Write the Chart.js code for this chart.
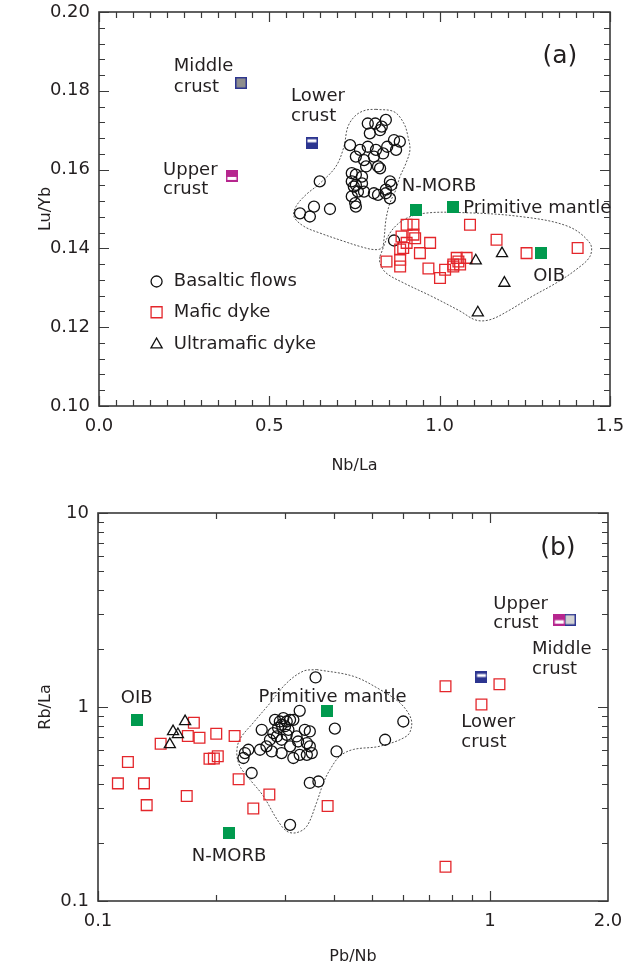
<!DOCTYPE html>
<html><head><meta charset="utf-8">
<script src="https://cdn.jsdelivr.net/npm/chart.js@4.4.0/dist/chart.umd.min.js"></script>
<style>
html,body{margin:0;padding:0;background:#fff;width:623px;height:966px;overflow:hidden}
.wrap{position:absolute;left:0;width:623px;height:483px}
canvas{display:block}
</style></head><body>
<div class="wrap" style="top:0"><canvas id="ca" width="623" height="483"></canvas></div>
<div class="wrap" style="top:483px"><canvas id="cb" width="623" height="483"></canvas></div>
<script>
// ---------------- Panel (a): Nb/La vs Lu/Yb ----------------
const aBasaltNbLa = [0.737,0.789,0.811,0.830,0.842,0.825,0.795,0.866,0.883,0.872,0.846,0.834,0.813,0.789,0.766,0.754,0.778,0.807,0.784,0.742,0.754,0.772,0.819,0.825,0.854,0.858,0.842,0.742,0.754,0.748,0.760,0.778,0.772,0.807,0.819,0.842,0.854,0.742,0.752,0.754,0.648,0.678,0.631,0.619,0.590,0.866];
const aBasaltLuYb = [0.1662,0.1717,0.1717,0.1709,0.1726,0.1700,0.1692,0.1675,0.1671,0.1650,0.1658,0.1641,0.1650,0.1658,0.1650,0.1633,0.1624,0.1633,0.1608,0.1591,0.1587,0.1582,0.1608,0.1603,0.1570,0.1561,0.1549,0.1570,0.1561,0.1557,0.1544,0.1544,0.1565,0.1540,0.1536,0.1540,0.1527,0.1532,0.1515,0.1506,0.1570,0.1500,0.1506,0.1481,0.1489,0.1420];
const aMaficNbLa = [0.903,0.923,1.089,0.888,0.923,0.928,0.903,0.972,1.167,0.884,0.893,0.942,0.844,0.884,0.884,0.967,1.001,1.016,1.040,1.050,1.055,1.079,1.060,1.040,1.255,1.405];
const aMaficLuYb = [0.1460,0.1460,0.1460,0.1430,0.1435,0.1426,0.1414,0.1414,0.1422,0.1397,0.1401,0.1388,0.1367,0.1371,0.1354,0.1349,0.1325,0.1346,0.1359,0.1376,0.1367,0.1376,0.1359,0.1354,0.1388,0.1401];
const aUltraNbLa = [1.106,1.183,1.190,1.112];
const aUltraLuYb = [0.1369,0.1387,0.1312,0.1237];
const refNames = ['Upper crust','Middle crust','Lower crust','N-MORB','Primitive mantle','OIB'];
const aRefNbLa = [0.390,0.417,0.625,0.931,1.039,1.297];
const aRefLuYb = [0.1584,0.1820,0.1668,0.1497,0.1506,0.1389];
// outlined fields (a)
const aBasaltFieldNbLa = [0.8129,0.8657,0.8951,0.9069,0.9127,0.901,0.8834,0.8716,0.854,0.8423,0.8364,0.8305,0.807,0.7659,0.7189,0.6484,0.6014,0.5721,0.578,0.6073,0.6484,0.6954,0.7189,0.7307,0.7541,0.7835];
const aBasaltFieldLuYb = [0.1753,0.1747,0.1717,0.1684,0.1650,0.1616,0.1582,0.1549,0.1515,0.1473,0.1422,0.1401,0.1397,0.1405,0.1418,0.1439,0.1456,0.1481,0.1506,0.1536,0.1565,0.1608,0.1658,0.1709,0.1738,0.1751];
const aMaficFieldNbLa = [0.8246,0.854,0.8951,0.9538,1.0596,1.2358,1.3767,1.4413,1.4413,1.4002,1.3415,1.271,1.2005,1.1477,1.1066,1.0596,0.9773,0.8951,0.8423,0.8246];
const aMaficFieldLuYb = [0.1380,0.1439,0.1473,0.1489,0.1491,0.1481,0.1456,0.1413,0.1380,0.1346,0.1312,0.1278,0.1241,0.1219,0.1218,0.1241,0.1278,0.1312,0.1338,0.1363];
const aXTicks = [0, 0.5, 1.0, 1.5];
const aYTicks = [0.10, 0.12, 0.14, 0.16, 0.18, 0.20];

// ---------------- Panel (b): Pb/Nb vs Rb/La ----------------
const bBasaltPbNb = [0.359,0.327,0.402,0.601,0.540,0.406,0.347,0.365,0.309,0.2466,0.235,0.237,0.2418,0.259,0.2616,0.2775,0.294,0.280,0.2746,0.2828,0.291,0.297,0.303,0.309,0.315,0.300,0.288,0.286,0.303,0.321,0.337,0.347,0.341,0.347,0.351,0.341,0.327,0.315,0.309,0.324,0.294,0.269,0.294,0.306];
const bBasaltRbLa = [1.42,0.956,0.773,0.842,0.678,0.590,0.406,0.413,0.247,0.457,0.546,0.579,0.602,0.602,0.763,0.590,0.579,0.734,0.678,0.859,0.842,0.877,0.842,0.859,0.859,0.796,0.780,0.705,0.719,0.705,0.763,0.748,0.652,0.627,0.579,0.567,0.567,0.546,0.627,0.664,0.678,0.627,0.810,0.763];
const bMaficPbNb = [0.1124,0.1192,0.131,0.1331,0.1445,0.1684,0.1756,0.1695,0.1815,0.2003,0.2231,0.1925,0.1975,0.2021,0.2284,0.249,0.2736,0.3853,0.770,0.951,1.057,0.770];
const bMaficRbLa = [0.404,0.520,0.404,0.312,0.646,0.348,0.829,0.708,0.694,0.728,0.708,0.541,0.543,0.558,0.424,0.300,0.354,0.309,1.28,1.03,1.31,0.150];
const bUltraPbNb = [0.1525,0.1554,0.1599,0.1668];
const bUltraRbLa = [0.641,0.748,0.722,0.842];
const bRefPbNb = [1.503,1.60,0.951,0.216,0.383,0.126];
const bRefRbLa = [2.82,2.82,1.42,0.225,0.952,0.862];
const bBasaltFieldPbNb = [0.361,0.448,0.524,0.589,0.625,0.631,0.613,0.524,0.448,0.414,0.391,0.376,0.361,0.341,0.321,0.303,0.286,0.264,0.244,0.230,0.226,0.230,0.249,0.275,0.303,0.334];
const bBasaltFieldRbLa = [1.56,1.44,1.23,1.05,0.897,0.796,0.708,0.628,0.604,0.558,0.477,0.407,0.321,0.243,0.225,0.229,0.264,0.348,0.423,0.496,0.581,0.681,0.830,1.05,1.33,1.53];
const bXTicks = [0.1, 1, 2];
const bXTickLabels = ['0.1', '1', '2.0'];
const bYTicks = [0.1, 1, 10];
const bYTickLabels = ['0.1', '1', '10'];

// ---------------- styling ----------------
const FONT = '"DejaVu Sans", "Liberation Sans", sans-serif';
const TXT = '#231f20';
const GREEN = '#009a4e', MAG = '#b6268e', BLUE = '#2c3590', RED = '#e4262b';

function pts(xs, ys, close) {
  const p = xs.map((x, i) => ({x: x, y: ys[i]}));
  if (close) p.push({x: xs[0], y: ys[0]});
  return p;
}
function mk(draw) {
  const c = document.createElement('canvas'); c.width = 12; c.height = 12;
  draw(c.getContext('2d')); return c;
}
const mGreen = mk(g => { g.fillStyle = GREEN; g.fillRect(0, 0, 12, 12); });
const mUpperA = mk(g => { g.fillStyle = MAG; g.fillRect(0, 0, 12, 12); g.fillStyle = '#fff'; g.fillRect(1.5, 7, 9, 3); });
const mLowerA = mk(g => { g.fillStyle = BLUE; g.fillRect(0, 0, 12, 12); g.fillStyle = '#fff'; g.fillRect(1.5, 2.5, 9, 3); });
const mMiddleA = mk(g => { g.fillStyle = BLUE; g.fillRect(0, 0, 12, 12); g.fillStyle = '#8e8e8e'; g.fillRect(1.5, 1.5, 9, 9); });
const mUpperB = mk(g => { g.fillStyle = MAG; g.fillRect(0, 0, 12, 12); g.fillStyle = '#fff'; g.fillRect(1.5, 6.5, 9, 3.5); });
const mLowerB = mk(g => { g.fillStyle = BLUE; g.fillRect(0, 0, 12, 12); g.fillStyle = '#fff'; g.fillRect(1.5, 2.5, 9, 3); });
const mMiddleB = mk(g => { g.fillStyle = BLUE; g.fillRect(0, 0, 12, 12); g.fillStyle = '#d2d2d2'; g.fillRect(1.5, 1.5, 9, 9); });

const decorPlugin = {
  id: 'decor',
  afterDraw(chart) {
    const o = chart.options.plugins.decor;
    const ctx = chart.ctx, xs = chart.scales.x, ys = chart.scales.y;
    const {left, right, top, bottom} = chart.chartArea;
    ctx.save();
    ctx.strokeStyle = '#3a3a3a'; ctx.lineWidth = 1.2;
    ctx.beginPath();
    o.xMarks.forEach(t => {
      const p = Math.round(xs.getPixelForValue(t.v)) + 0.5, L = t.major ? 10 : 6;
      ctx.moveTo(p, bottom); ctx.lineTo(p, bottom - L);
      ctx.moveTo(p, top); ctx.lineTo(p, top + L);
    });
    o.yMarks.forEach(t => {
      const p = Math.round(ys.getPixelForValue(t.v)) + 0.5, L = t.major ? 10 : 6;
      ctx.moveTo(left, p); ctx.lineTo(left + L, p);
      ctx.moveTo(right, p); ctx.lineTo(right - L, p);
    });
    ctx.stroke();
    ctx.lineWidth = 1.6; ctx.strokeStyle = '#3a3a3a';
    ctx.strokeRect(left, top, right - left, bottom - top);
    ctx.fillStyle = TXT; ctx.textBaseline = 'middle';
    o.notes.forEach(n => {
      ctx.font = (n.size || 18) + 'px ' + FONT;
      ctx.textAlign = n.align || 'left';
      ctx.fillText(n.t, xs.getPixelForValue(n.x), ys.getPixelForValue(n.y));
    });
    if (o.legend) {
      const L = o.legend;
      const sx = xs.getPixelForValue(L.symX), tx = xs.getPixelForValue(L.textX);
      L.items.forEach(it => {
        const y = ys.getPixelForValue(it.y);
        ctx.lineWidth = 1.3; ctx.strokeStyle = it.color;
        ctx.beginPath();
        if (it.style === 'circle') ctx.arc(sx, y, 5.5, 0, Math.PI * 2);
        else if (it.style === 'rect') ctx.rect(sx - 5.5, y - 5.5, 11, 11);
        else { ctx.moveTo(sx, y - 6.5); ctx.lineTo(sx + 5.6, y + 3.3); ctx.lineTo(sx - 5.6, y + 3.3); ctx.closePath(); }
        ctx.stroke();
        ctx.font = '18px ' + FONT; ctx.textAlign = 'left'; ctx.fillStyle = TXT;
        ctx.fillText(it.text, tx, y);
      });
    }
    ctx.restore();
  }
};

// tick marks (decoration)
const aXMarks = []; for (let i = 0; i <= 30; i++) aXMarks.push({v: i * 0.05, major: i % 10 === 0});
const aYMarks = []; for (let i = 0; i <= 25; i++) aYMarks.push({v: 0.10 + i * 0.004, major: i % 5 === 0});
const bXMarks = [{v: 0.1, major: true}]; [0.2,0.3,0.4,0.5,0.6,0.7,0.8,0.9].forEach(v => bXMarks.push({v, major: false})); bXMarks.push({v: 1, major: true});
const bYMarks = [];
[0.1,0.2,0.3,0.4,0.5,0.6,0.7,0.8,0.9,1,2,3,4,5,6,7,8,9,10].forEach(v => bYMarks.push({v, major: v === 0.1 || v === 1 || v === 10}));

const aNotes = [
  {t: 'Middle', x: 0.2197, y: 0.1861}, {t: 'crust', x: 0.2197, y: 0.1810},
  {t: 'Lower', x: 0.5638, y: 0.1785}, {t: 'crust', x: 0.5638, y: 0.1734},
  {t: 'Upper', x: 0.188, y: 0.1599}, {t: 'crust', x: 0.188, y: 0.1549},
  {t: 'N-MORB', x: 0.889, y: 0.1557},
  {t: 'Primitive mantle', x: 1.069, y: 0.1502},
  {t: 'OIB', x: 1.2745, y: 0.1329},
  {t: '(a)', x: 1.353, y: 0.1888, size: 25, align: 'center'}
];
const bNotes = [
  {t: 'OIB', x: 0.1143, y: 1.115},
  {t: 'N-MORB', x: 0.1735, y: 0.1706},
  {t: 'Primitive mantle', x: 0.2566, y: 1.128},
  {t: 'Upper', x: 1.02, y: 3.37}, {t: 'crust', x: 1.02, y: 2.715},
  {t: 'Middle', x: 1.28, y: 1.977}, {t: 'crust', x: 1.28, y: 1.56},
  {t: 'Lower', x: 0.845, y: 0.829}, {t: 'crust', x: 0.845, y: 0.654},
  {t: '(b)', x: 1.49, y: 6.6, size: 25, align: 'center'}
];
const aLegend = {symX: 0.169, textX: 0.2197, items: [
  {style: 'circle', color: '#111', text: 'Basaltic flows', y: 0.1316},
  {style: 'rect', color: RED, text: 'Mafic dyke', y: 0.1238},
  {style: 'triangle', color: '#111', text: 'Ultramafic dyke', y: 0.1156}
]};

function sampleSets(bx, by, mx, my, ux, uy) {
  return [
    {label: 'Basaltic flows', data: pts(bx, by), pointStyle: 'circle', pointRadius: 5.5, borderColor: '#111', borderWidth: 1.3, backgroundColor: 'rgba(0,0,0,0)', order: 3},
    {label: 'Mafic dyke', data: pts(mx, my), pointStyle: 'rect', pointRadius: 7.6, borderColor: RED, borderWidth: 1.3, backgroundColor: 'rgba(0,0,0,0)', order: 2},
    {label: 'Ultramafic dyke', data: pts(ux, uy), pointStyle: 'triangle', pointRadius: 6.4, borderColor: '#111', borderWidth: 1.3, backgroundColor: 'rgba(0,0,0,0)', order: 1}
  ];
}
function fieldSet(xs, ys) {
  return {label: 'field', data: pts(xs, ys, true), showLine: true, borderColor: '#555', borderWidth: 1, borderDash: [2, 1.6], pointRadius: 0, tension: 0.35, fill: false, order: 10};
}
function refSets(xs, ys, markers) {
  return refNames.map((n, i) => ({label: n, data: [{x: xs[i], y: ys[i]}], pointStyle: markers[i], pointRadius: 6, order: 0}));
}
function axisTitle(text, pad) {
  return {display: true, text: text, color: TXT, font: {family: FONT, size: 16}, padding: pad};
}
function baseOpts(padding, decor, scales) {
  return {
    responsive: false, animation: false, devicePixelRatio: 1, events: [],
    layout: {padding: padding},
    plugins: {legend: {display: false}, tooltip: {enabled: false}, decor: decor},
    scales: scales
  };
}

new Chart(document.getElementById('ca'), {
  type: 'scatter',
  data: {datasets: [
    fieldSet(aBasaltFieldNbLa, aBasaltFieldLuYb),
    fieldSet(aMaficFieldNbLa, aMaficFieldLuYb),
    ...sampleSets(aBasaltNbLa, aBasaltLuYb, aMaficNbLa, aMaficLuYb, aUltraNbLa, aUltraLuYb),
    ...refSets(aRefNbLa, aRefLuYb, [mUpperA, mMiddleA, mLowerA, mGreen, mGreen, mGreen])
  ]},
  options: baseOpts({left: 0, right: 13, top: 12, bottom: 0},
    {xMarks: aXMarks, yMarks: aYMarks, notes: aNotes, legend: aLegend},
    {
      x: {type: 'linear', min: 0, max: 1.5,
        afterBuildTicks: s => { s.ticks = aXTicks.map(v => ({value: v})); },
        ticks: {callback: v => Number(v).toFixed(1), color: TXT, font: {family: FONT, size: 18}, padding: 10, maxRotation: 0, autoSkip: false},
        grid: {display: false, drawTicks: false}, border: {display: false},
        title: axisTitle('Nb/La', {top: 0, bottom: 8}),
        afterFit: s => { s.height = 77; s.paddingLeft = 0; s.paddingRight = 0; }},
      y: {type: 'linear', min: 0.10, max: 0.20,
        afterBuildTicks: s => { s.ticks = aYTicks.map(v => ({value: v})); },
        ticks: {callback: v => Number(v).toFixed(2), color: TXT, font: {family: FONT, size: 18}, padding: 9, autoSkip: false},
        grid: {display: false, drawTicks: false}, border: {display: false},
        title: axisTitle('Lu/Yb', {top: 36, bottom: 0}),
        afterFit: s => { s.width = 99; s.paddingTop = 0; s.paddingBottom = 0; }}
    }),
  plugins: [decorPlugin]
});

new Chart(document.getElementById('cb'), {
  type: 'scatter',
  data: {datasets: [
    fieldSet(bBasaltFieldPbNb, bBasaltFieldRbLa),
    ...sampleSets(bBasaltPbNb, bBasaltRbLa, bMaficPbNb, bMaficRbLa, bUltraPbNb, bUltraRbLa),
    ...refSets(bRefPbNb, bRefRbLa, [mUpperB, mMiddleB, mLowerB, mGreen, mGreen, mGreen])
  ]},
  options: baseOpts({left: 0, right: 15, top: 30, bottom: 0},
    {xMarks: bXMarks, yMarks: bYMarks, notes: bNotes},
    {
      x: {type: 'logarithmic', min: 0.1, max: 2,
        afterBuildTicks: s => { s.ticks = bXTicks.map(v => ({value: v})); },
        ticks: {callback: (v, i) => bXTickLabels[i], color: TXT, font: {family: FONT, size: 18}, padding: 10, maxRotation: 0, autoSkip: false},
        grid: {display: false, drawTicks: false}, border: {display: false},
        title: axisTitle('Pb/Nb', {top: 0, bottom: 0}),
        afterFit: s => { s.height = 65; s.paddingLeft = 0; s.paddingRight = 0; }},
      y: {type: 'logarithmic', min: 0.1, max: 10,
        afterBuildTicks: s => { s.ticks = bYTicks.map(v => ({value: v})); },
        ticks: {callback: (v, i) => bYTickLabels[i], color: TXT, font: {family: FONT, size: 18}, padding: 9, autoSkip: false},
        grid: {display: false, drawTicks: false}, border: {display: false},
        title: axisTitle('Rb/La', {top: 36, bottom: 0}),
        afterFit: s => { s.width = 98; s.paddingTop = 0; s.paddingBottom = 0; }}
    }),
  plugins: [decorPlugin]
});
</script>
</body></html>
